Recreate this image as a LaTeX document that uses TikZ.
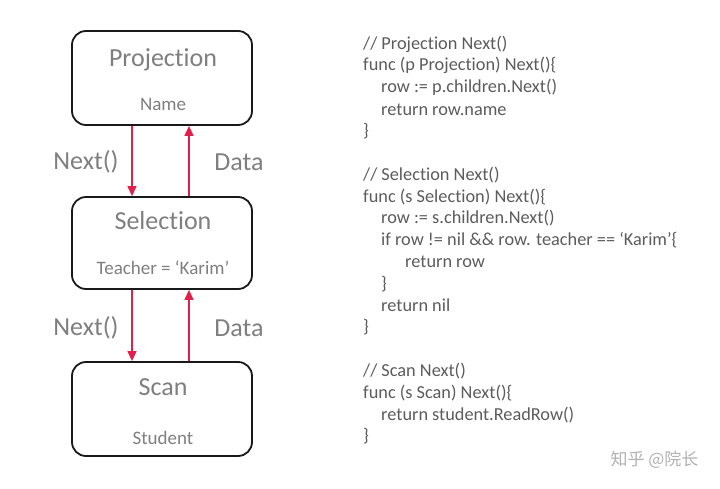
\documentclass[tikz,border=0pt]{standalone}
\usepackage{fontspec}
\setmainfont{Carlito}[Ligatures={NoCommon,NoRare,NoDiscretionary}]
\newfontfamily\cjk{Noto Sans CJK SC}
\usetikzlibrary{arrows.meta}
\definecolor{txtgray}{HTML}{7F7F7F}
\definecolor{codegray}{HTML}{5C5C5C}
\definecolor{arrred}{HTML}{E0204A}
\begin{document}
\begin{tikzpicture}[x=1pt,y=-1pt,
  opbox/.style={draw=black!90,line width=1.8pt,rounded corners=14pt,minimum width=180pt,minimum height=94pt,inner sep=0pt},
  title/.style={text=txtgray,font=\fontsize{26}{30}\selectfont},
  sub/.style={text=txtgray,font=\fontsize{19}{22}\selectfont},
  lbl/.style={text=txtgray,font=\fontsize{26}{30}\selectfont},
  arr/.style={draw=arrred,line width=1.2pt,-{Triangle[length=10pt,width=9pt]},arrred},
  code/.style={text=codegray,font=\fontsize{18.3}{21}\selectfont,anchor=west,inner sep=0pt}
]
\useasboundingbox (0,0) rectangle (720,489);
\fill[white] (0,0) rectangle (720,489);
% boxes
\node[opbox] (proj) at (162,78) {};
\node[opbox,minimum height=92pt] (sel) at (162,243) {};
\node[opbox] (scan) at (162,409) {};
\node[title] (tproj) at (163,60) {Projection};
\node[sub] (sproj) at (163,104) {Name};
\node[title] (tsel) at (163,221) {Selection};
\node[sub] (ssel) at (163,268) {Teacher = ‘Karim’};
\node[title] (tscan) at (163,387) {Scan};
\node[sub] (sscan) at (163,438) {Student};
% arrows
\draw[arr] ([xshift=-30pt]proj.south) -- ([xshift=-30pt]sel.north);
\draw[arr] ([xshift=27pt]sel.north) -- ([xshift=27pt]proj.south);
\draw[arr] ([xshift=-30pt]sel.south) -- ([xshift=-30pt]scan.north);
\draw[arr] ([xshift=27pt]scan.north) -- ([xshift=27pt]sel.south);
\node[lbl] (n1) at (86,162) {Next()};
\node[lbl] (d1) at (239,162) {Data};
\node[lbl] (n2) at (86,328) {Next()};
\node[lbl] (d2) at (239,328) {Data};
% code
\node[code] (c0) at (363,44) {// Projection Next()};
\node[code] (c1) at (363,65.8) {func (p Projection) Next()\{};
\node[code] (c2) at (381,87.6) {row := p.children.Next()};
\node[code] (c3) at (381,109.4) {return row.name};
\node[code] (c4) at (363,131.2) {\}};
\node[code] (c6) at (363,174.8) {// Selection Next()};
\node[code] (c7) at (363,196.6) {func (s Selection) Next()\{};
\node[code] (c8) at (381,218.4) {row := s.children.Next()};
\node[code] (c9) at (381,240.2) {if row != nil \&\& row. teacher == ‘Karim’\{};
\node[code] (c10) at (405,262) {return row};
\node[code] (c11) at (381,283.8) {\}};
\node[code] (c12) at (381,305.6) {return nil};
\node[code] (c13) at (363,327.4) {\}};
\node[code] (c15) at (363,371) {// Scan Next()};
\node[code] (c16) at (363,392.8) {func (s Scan) Next()\{};
\node[code] (c17) at (381,414.6) {return student.ReadRow()};
\node[code] (c18) at (363,436.4) {\}};
% watermark
\node[text=black!30,font=\cjk\fontsize{17}{20}\selectfont,anchor=east] (wm) at (702,460) {知乎 @院长};
\end{tikzpicture}
\end{document}
